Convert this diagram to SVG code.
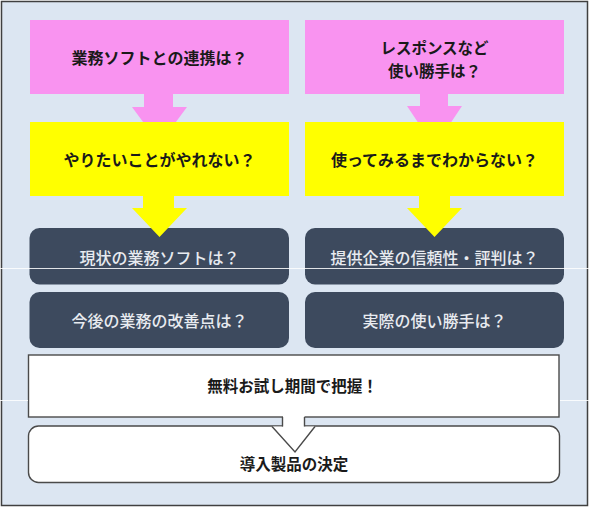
<svg xmlns="http://www.w3.org/2000/svg" width="590" height="508" viewBox="0 0 590 508">
  <style>
    .pink { fill: #f993f0; }
    .yellow { fill: #ffff00; }
    .dark { fill: #3d4a5e; }
    .white { fill: #ffffff; stroke: #4a4a4a; stroke-width: 1.4; }
    .t { font-family: "Noto Sans CJK JP", "Noto Sans", sans-serif; text-anchor: middle; }
    .tb { font-weight: 700; fill: #1a1a1a; font-size: 16px; }
    .tl { font-weight: 500; fill: #e8ebf0; font-size: 16px; }
    .tw { font-weight: 700; fill: #1a1a1a; font-size: 15.5px; }
    .arrow-pink { fill: #f993f0; }
    .arrow-yellow { fill: #ffff00; }
    .artifact { stroke: #ffffff; stroke-width: 1; opacity: 0.85; }
  </style>
  <g id="background">
    <rect x="0" y="0" width="590" height="508" fill="#ffffff"/>
    <rect x="1.5" y="1.5" width="586" height="504" fill="#dce6f2" stroke="#404040" stroke-width="1.5"/>
  </g>

  <g id="node-left-pink">
    <rect class="pink" x="30" y="20" width="259" height="74"/>
    <text class="t tb" x="159.5" y="64">業務ソフトとの連携は？</text>
  </g>
  <g id="node-right-pink">
    <rect class="pink" x="305" y="20" width="259" height="74"/>
    <text class="t tb" x="434.5" y="53.5" style="font-size:15.5px">レスポンスなど</text>
    <text class="t tb" x="434.5" y="76.5" style="font-size:15.5px">使い勝手は？</text>
  </g>
  <g id="node-left-yellow">
    <rect class="yellow" x="30" y="122" width="259" height="74"/>
    <text class="t tb" x="159.5" y="166">やりたいことがやれない？</text>
  </g>
  <g id="node-right-yellow">
    <rect class="yellow" x="305" y="122" width="259" height="74"/>
    <text class="t tb" x="434.5" y="166">使ってみるまでわからない？</text>
  </g>
  <g id="node-left-dark1">
    <rect class="dark" x="29.5" y="228" width="259.5" height="56.5" rx="10"/>
    <text class="t tl" x="159.5" y="263.5">現状の業務ソフトは？</text>
  </g>
  <g id="node-right-dark1">
    <rect class="dark" x="305" y="228" width="259" height="56.5" rx="10"/>
    <text class="t tl" x="434.5" y="263.5">提供企業の信頼性・評判は？</text>
  </g>
  <g id="node-left-dark2">
    <rect class="dark" x="29.5" y="292" width="259.5" height="56" rx="10"/>
    <text class="t tl" x="159.5" y="327">今後の業務の改善点は？</text>
  </g>
  <g id="node-right-dark2">
    <rect class="dark" x="305" y="292" width="259" height="56" rx="10"/>
    <text class="t tl" x="434.5" y="327">実際の使い勝手は？</text>
  </g>

  <g id="node-decision">
    <rect class="white" x="28.5" y="426" width="531" height="56.5" rx="10"/>
    <text class="t tw" x="294" y="470">導入製品の決定</text>
  </g>
  <g id="node-trial">
    <rect class="white" x="28.5" y="355" width="530.5" height="62"/>
    <rect x="283" y="416" width="21.5" height="11" fill="#ffffff"/>
    <polygon points="272,426.5 315,426.5 295,452" fill="#ffffff"/>
    <path d="M282.5,417 V426.5 M304.5,417 V426.5 M272,426.5 L295,452 L315,426.5" fill="none" stroke="#4a4a4a" stroke-width="1.4"/>
    <text class="t tw" x="292.5" y="392">無料お試し期間で把握！</text>
  </g>

  <g id="connectors">
    <polygon class="arrow-pink" points="144,94 173,94 173,107 187,107 175.9,122 143.1,122 132,107 144,107"/>
    <polygon class="arrow-pink" points="420,94 448,94 448,106 462,106 451.3,122 417.7,122 407,106 420,106"/>
    <polygon class="arrow-yellow" points="143,196 174,196 174,208 187,208 159.5,237 132,208 143,208"/>
    <polygon class="arrow-yellow" points="419,196 450,196 450,208 462,208 434.5,237 407,208 419,208"/>
  </g>

  <g id="scan-lines">
    <line class="artifact" x1="0" y1="268.5" x2="590" y2="268.5"/>
    <line class="artifact" x1="0" y1="400.5" x2="28" y2="400.5"/>
    <line class="artifact" x1="560" y1="400.5" x2="590" y2="400.5"/>
  </g>
</svg>
